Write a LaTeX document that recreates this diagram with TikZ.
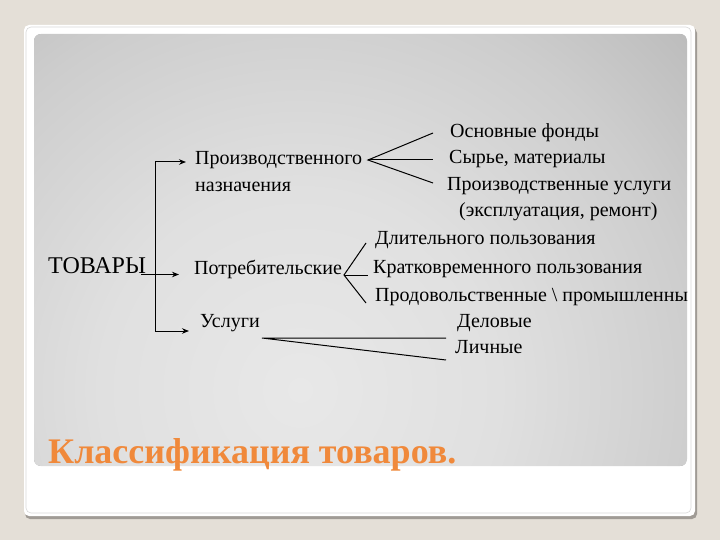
\documentclass[tikz,border=0pt]{standalone}
\usepackage{fontspec}
\setmainfont{Liberation Serif}
\usetikzlibrary{arrows.meta}
\definecolor{bgbeige}{HTML}{E4DFD7}
\definecolor{frameshadow}{HTML}{A09B95}
\definecolor{frameline}{HTML}{D8D8D8}
\definecolor{titleorange}{HTML}{F0893B}
\definecolor{pA}{HTML}{E8E8E8}
\definecolor{pB}{HTML}{E0E0E0}
\definecolor{pC}{HTML}{CDCDCD}
\definecolor{pD}{HTML}{B8B8B8}
\definecolor{pE}{HTML}{A8A8A8}
\definecolor{pF}{HTML}{A0A0A0}
\pgfdeclareradialshading{panelshade}{\pgfpoint{0bp}{0bp}}{color(0bp)=(pA); color(8.3bp)=(pB); color(16.7bp)=(pC); color(23.3bp)=(pD); color(31.7bp)=(pE); color(41.7bp)=(pF); color(50bp)=(pF)}
\begin{document}
\begin{tikzpicture}[x=1pt,y=-1pt,
  txt/.style={anchor=base west, inner sep=0pt, font=\fontsize{20}{24}\selectfont},
  conn/.style={line width=1pt, black},
  arr/.style={conn, -{Stealth[length=7pt,width=5.5pt]}}]
\useasboundingbox (0,0) rectangle (720,540);
\fill[bgbeige] (0,0) rectangle (720,540);
% frame
\fill[frameshadow, rounded corners=5pt] (25,28) rectangle (697,519);
\fill[white, rounded corners=5pt] (24,25) rectangle (695,516);
\draw[frameline, line width=0.6pt, rounded corners=5pt] (26,27) rectangle (691,513);
% panel
\begin{scope}
  \clip[rounded corners=7pt] (34,34) rectangle (687,466);
  \fill[pF] (34,34) rectangle (687,466);
  \shade[shading=panelshade] (300,390) circle (600pt);
\end{scope}
% texts
\node[txt, font=\fontsize{24}{28}\selectfont] (tov) at (48,273) {ТОВАРЫ};
\node[txt] (prod) at (195,165) {Производственного};
\node[txt] (naz) at (195,192) {назначения};
\node[txt] (potr) at (194,274) {Потребительские};
\node[txt] (usl) at (200,327) {Услуги};
\node[txt] (osn) at (450,138) {Основные фонды};
\node[txt] (syr) at (449,164) {Сырье, материалы};
\node[txt] (pu) at (447,191) {Производственные услуги};
\node[txt] (eks) at (459,217) {(эксплуатация, ремонт)};
\node[txt] (dl) at (375,244) {Длительного пользования};
\node[txt] (kr) at (373,273) {Кратковременного пользования};
\node[txt] (pp) at (375,301) {Продовольственные \textbackslash{} промышленны};
\node[txt] (del) at (457,327) {Деловые};
\node[txt] (lich) at (455,353) {Личные};
\node[anchor=base west, inner sep=0pt, text=titleorange, font=\bfseries\fontsize{36}{40}\selectfont] (title) at (48,463) {Классификация товаров.};
% trunk and arrows
\coordinate (trunkTop) at (155,162);
\coordinate (trunkMid) at (155,274.5);
\coordinate (trunkBot) at (155,331);
\coordinate (tovEnd) at (141,274.5);
\coordinate (tip1) at (186,162);
\coordinate (tip2) at (179,274.5);
\coordinate (tip3) at (189,331);
\draw[conn] (trunkTop) -- (trunkBot);
\draw[conn] (tovEnd) -- (trunkMid);
\draw[arr] (trunkTop) -- (tip1);
\draw[arr] (trunkMid) -- (tip2);
\draw[arr] (trunkBot) -- (tip3);
% fans
\coordinate (f1apex) at (368,160);
\coordinate (f1a) at (433,133);
\coordinate (f1b) at (433,160);
\coordinate (f1c) at (433,183);
\draw[conn] (f1a) -- (f1apex) -- (f1c);
\draw[conn] (f1apex) -- (f1b);
\coordinate (f2apex) at (344,275);
\coordinate (f2a) at (366,243);
\coordinate (f2b) at (368,275);
\coordinate (f2c) at (366,303);
\draw[conn] (f2a) -- (f2apex) -- (f2c);
\draw[conn] (f2apex) -- (f2b);
\coordinate (f3apex) at (262,338);
\coordinate (f3a) at (446,338);
\coordinate (f3b) at (446,360);
\draw[conn] (f3a) -- (f3apex) -- (f3b);
\end{tikzpicture}
\end{document}
